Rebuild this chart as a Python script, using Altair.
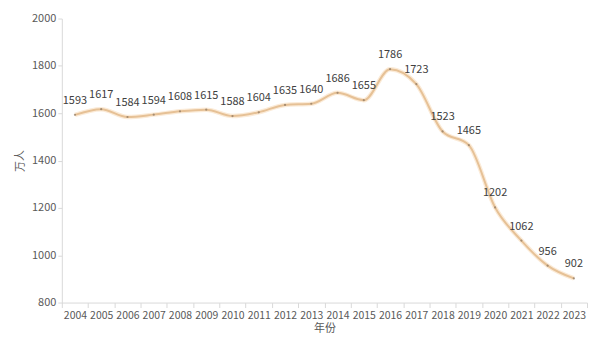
import altair as alt
import pandas as pd

years = [str(y) for y in range(2004, 2024)]
values = [1593, 1617, 1584, 1594, 1608, 1615, 1588, 1604, 1635, 1640,
          1686, 1655, 1786, 1723, 1523, 1465, 1202, 1062, 956, 902]

df = pd.DataFrame({"年份": years, "万人": values})

font = "Noto Sans CJK SC"

x = alt.X("年份:N", sort=years,
          scale=alt.Scale(paddingInner=0, paddingOuter=0),
          axis=alt.Axis(title="年份", labelAngle=0, labelFontSize=10.5, labelColor="#595959",
                        titleColor="#595959", titleFontSize=11, titleFontWeight="normal",
                        domainColor="#d9d9d9", tickColor="#d9d9d9", tickSize=5,
                        tickBand="extent", labelPadding=3, titlePadding=2, grid=False))
y = alt.Y("万人:Q", scale=alt.Scale(domain=[800, 2000], nice=False),
          axis=alt.Axis(title="万人", values=[800, 1000, 1200, 1400, 1600, 1800, 2000],
                        format="d",
                        labelFontSize=11, labelColor="#595959", titleColor="#595959",
                        titleFontSize=11, titleFontWeight="normal", domainColor="#d9d9d9",
                        tickColor="#d9d9d9", tickSize=4, grid=False, titlePadding=6))

base = alt.Chart(df).encode(x=x, y=y)

glow = base.mark_line(interpolate="monotone", color="#FBEBD8", strokeWidth=4.5)
line = base.mark_line(interpolate="monotone", color="#E6C196", strokeWidth=2)
pts = base.mark_point(filled=True, size=5, color="#8a7560", opacity=0.7)
labels = base.mark_text(dy=-14, fontSize=11, color="#404040", font=font).encode(
    text=alt.Text("万人:Q", format="d"))

chart = (glow + line + pts + labels).properties(
    width=527, height=285,
    autosize=alt.AutoSizeParams(type="none"),
    padding={"left": 54, "top": 10, "right": 5, "bottom": 40},
    background="white",
).configure(font=font).configure_view(stroke=None)

chart.save("out.html", embed_options={"renderer": "svg", "actions": False})
